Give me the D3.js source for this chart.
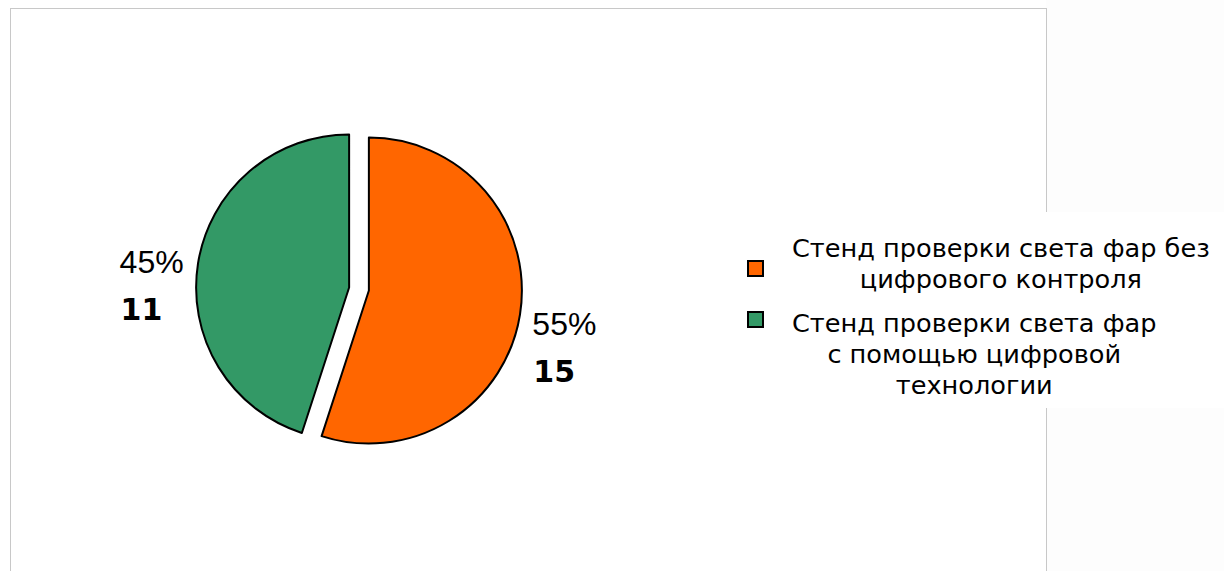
<!DOCTYPE html>
<html>
<head>
<meta charset="utf-8">
<script src="https://cdn.jsdelivr.net/npm/d3@7"></script>
<style>
  html, body { margin: 0; padding: 0; background: #ffffff; }
  svg { display: block; }
</style>
</head>
<body>
<svg id="chart" width="1224" height="571"></svg>
<script>
// data
var categories = [
  ["Стенд проверки света фар без", "цифрового контроля"],
  ["Стенд проверки света фар", "с помощью цифровой", "технологии"]
];
var percents = [55, 45];
var counts = [15, 11];
var colors = ["#ff6600", "#339966"];

var width = 1224, height = 571;
var svg = d3.select("#chart");

// faint backdrop on the right, outside the chart frame
svg.append("rect")
  .attr("x", 1046).attr("y", 0)
  .attr("width", width - 1046).attr("height", height)
  .attr("fill", "#fdfdfd");

// chart frame
svg.append("rect")
  .attr("x", 10.5).attr("y", 8.5)
  .attr("width", 1036).attr("height", 580)
  .attr("fill", "#ffffff")
  .attr("stroke", "#c8c8c8")
  .attr("stroke-width", 1);

// pie
var cx = 359, cy = 289, radius = 153, explode = 10;

var pie = d3.pie()
  .sort(null)
  .value(d => d);

var arcs = pie(percents);

var arc = d3.arc()
  .innerRadius(0)
  .outerRadius(radius);

var labelArc = d3.arc()
  .innerRadius(radius * 1.2)
  .outerRadius(radius * 1.2);

var g = svg.append("g")
  .attr("transform", "translate(" + cx + "," + cy + ")");

g.selectAll(".slice")
  .data(arcs)
  .enter()
  .append("path")
  .attr("class", "slice")
  .attr("d", arc)
  .attr("fill", (d, i) => colors[i])
  .attr("stroke", "#000")
  .attr("stroke-width", 2)
  .attr("stroke-linejoin", "round")
  .attr("transform", d => {
    var mid = (d.startAngle + d.endAngle) / 2;
    return "translate(" + (Math.sin(mid) * explode) + "," + (-Math.cos(mid) * explode) + ")";
  });

// labels: percent + bold count
var labels = g.selectAll(".lbl")
  .data(arcs)
  .enter()
  .append("g")
  .attr("class", "lbl");

labels.append("text")
  .attr("x", 0).attr("y", 0)
  .attr("font-family", "Liberation Sans, Arial, sans-serif")
  .attr("font-size", 32)
  .attr("fill", "#000")
  .text((d, i) => percents[i] + "%");

labels.append("text")
  .attr("x", 1).attr("y", 47)
  .attr("font-family", "DejaVu Sans, Verdana, sans-serif")
  .attr("font-weight", "bold")
  .attr("font-size", 30)
  .attr("fill", "#000")
  .text((d, i) => counts[i]);

labels.each(function(d) {
  var p = labelArc.centroid(d);
  var box = this.getBBox();
  var mid = (d.startAngle + d.endAngle) / 2;
  var left = mid > Math.PI;
  var x = left ? p[0] - box.width + 6 : p[0] - 8;
  var y = left ? p[1] + 13 : p[1] + 17;
  d3.select(this).attr("transform", "translate(" + x + "," + y + ")");
});

// legend
var legend = svg.append("g");

legend.append("rect")
  .attr("x", 700).attr("y", 212)
  .attr("width", width - 700).attr("height", 196)
  .attr("fill", "#ffffff");

var legendX = 792, lineH = 31, entryGap = 13;
var rowTop = [257, 0];
rowTop[1] = rowTop[0] + categories[0].length * lineH + entryGap;
var markerDy = [4, -20];

categories.forEach(function(lines, i) {
  var entry = legend.append("g");
  var texts = entry.selectAll("text")
    .data(lines)
    .enter()
    .append("text")
    .attr("y", (d, j) => rowTop[i] + j * lineH)
    .attr("font-family", "DejaVu Sans, Verdana, sans-serif")
    .attr("font-size", 25.6)
    .attr("fill", "#000")
    .attr("text-anchor", "middle")
    .text(d => d);
  var maxW = d3.max(texts.nodes(), n => n.getComputedTextLength());
  texts.attr("x", legendX + maxW / 2);

  entry.append("rect")
    .attr("x", 748).attr("y", rowTop[i] + markerDy[i])
    .attr("width", 15).attr("height", 15)
    .attr("fill", colors[i])
    .attr("stroke", "#000")
    .attr("stroke-width", 2);
});
</script>
</body>
</html>
